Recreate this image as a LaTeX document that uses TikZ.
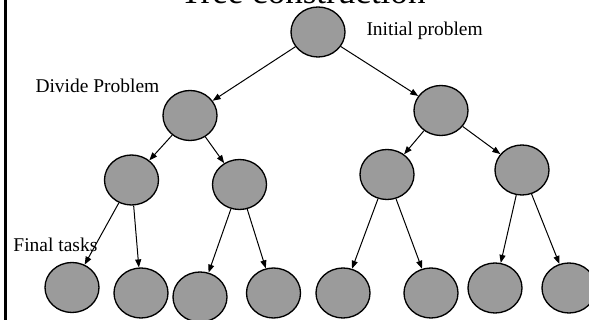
\documentclass[tikz,border=0pt]{standalone}
\usepackage{fontspec}
\setmainfont{Liberation Serif}
\usetikzlibrary{shapes.geometric,arrows.meta}

\tikzset{every picture/.style={line width=0.75pt}}
\tikzset{
  task/.style={ellipse,draw,line width=1pt,fill={rgb, 255:red, 155; green, 155; blue, 155},minimum width=40.5pt,minimum height=37.5pt,inner sep=0pt},
  link/.style={-{Triangle[length=6pt,width=4.5pt]},line width=0.75pt},
  lbl/.style={anchor=west,inner sep=0pt,font=\fontsize{14.6}{17}\selectfont}
}

\begin{document}
\begin{tikzpicture}[x=0.75pt,y=0.75pt,yscale=-1,xscale=1]
\useasboundingbox (0,0) rectangle (589,320);

%Straight Lines [left bar]
\draw [line width=2.25pt] (5.5,-2) -- (5.5,322) ;

% Title
\draw (303,4) node [anchor=base,inner sep=0pt,font=\fontsize{26.3}{30}\selectfont] (title) {Tree construction};

%Shape: Ellipse [root]
\draw (318,32) node [task] (root) {};
%Shape: Ellipse [level one]
\draw (190,115.5) node [task] (dl) {};
\draw (441,110.5) node [task] (dr) {};
%Shape: Ellipse [level two]
\draw (131.5,180) node [task] (dll) {};
\draw (239.5,184.5) node [task] (dlr) {};
\draw (387,174.5) node [task] (drl) {};
\draw (522,170) node [task] (drr) {};
%Shape: Ellipse [final tasks]
\draw (72,287.5) node [task] (f1) {};
\draw (141,293) node [task] (f2) {};
\draw (200,297) node [task] (f3) {};
\draw (273.5,293) node [task] (f4) {};
\draw (343,293) node [task] (f5) {};
\draw (431,293) node [task] (f6) {};
\draw (495,288) node [task] (f7) {};
\draw (569,288) node [task] (f8) {};

%Straight Lines [arrows]
\draw [link] (root) -- (dl) ;
\draw [link] (root) -- (dr) ;
\draw [link] (dl) -- (dll) ;
\draw [link] (dl) -- (dlr) ;
\draw [link] (dr) -- (drl) ;
\draw [link] (dr) -- (drr) ;
\draw [link] (dll) -- (f1) ;
\draw [link] (dll) -- (f2) ;
\draw [link] (dlr) -- (f3) ;
\draw [link] (dlr) -- (f4) ;
\draw [link] (drl) -- (f5) ;
\draw [link] (drl) -- (f6) ;
\draw [link] (drr) -- (f7) ;
\draw [link] (drr) -- (f8) ;

% Text Node
\draw (366,31) node [lbl] (initial) {Initial problem};
% Text Node
\draw (35,86) node [lbl] (divide) {Divide Problem};
% Text Node
\draw (13,245) node [lbl] (final) {Final tasks};

\end{tikzpicture}
\end{document}
